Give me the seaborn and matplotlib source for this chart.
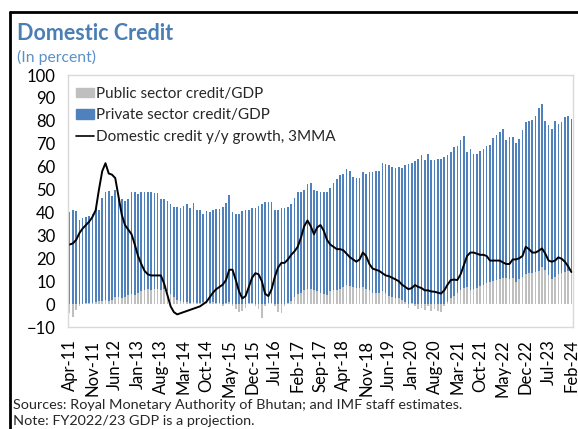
import numpy as np
import matplotlib
matplotlib.use("Agg")
import matplotlib.pyplot as plt
from matplotlib.patches import Patch
from matplotlib.lines import Line2D
import seaborn as sns

# monthly data, Apr-11 .. Feb-24 (155 months)
tick_labels = ["Apr-11", "Nov-11", "Jun-12", "Jan-13", "Aug-13", "Mar-14", "Oct-14",
               "May-15", "Dec-15", "Jul-16", "Feb-17", "Sep-17", "Apr-18", "Nov-18",
               "Jun-19", "Jan-20", "Aug-20", "Mar-21", "Oct-21", "May-22", "Dec-22",
               "Jul-23", "Feb-24"]

public_credit = [
    -4, -5.5, -2.5, -1, 0, 0.5, 0.5, 0.5, 1, 1.5,
    1.5, 2, 1.5, 2, 3, 3, 2.5, 3, 4, 4.5,
    4, 5, 5.5, 6, 6.5, 6, 6.5, 6.5, 6, 6.5,
    5.5, 4.5, 3, 2, 1.5, 1, 1, 0.5, 1, 0.5,
    0.5, 1, 0.5, 0.5, 1, 0.5, 0.5, -1, 0.5, 1,
    -1, -2, -3.5, -3, -1.5, 0.5, 0.5, -1, -2, -6,
    -1, 0.5, 0.5, -1, -3.5, -4, -1, 0.5, 1.5, 3,
    4.5, 5, 6, 6.5, 6.5, 6, 5.5, 5, 4.5, 4,
    5.5, 6, 6, 6.5, 7.5, 8.5, 8, 7.5, 7, 7,
    7.5, 6.5, 6, 5, 5, 5, 5.5, 5, 3.5, 3,
    2.5, 2.5, 2, 1, -1.5, 0.5, -1, -2, -1.5, -2.5,
    -1, -3, -2, -3, -3.5, -1, 1, 2.5, 3.5, 5,
    6, 7, 7.5, 6, 6.5, 7, 8, 8.5, 9, 9.5,
    10, 10.5, 11, 11.5, 11.5, 11, 11.5, 9.5, 11, 12,
    13, 13.5, 13.5, 14, 14.5, 16, 15, 12.5, 11, 12,
    13, 13.5, 14, 14.5, 14.5]

private_credit = [
    40, 41, 40.5, 36.5, 37.5, 37.5, 38, 39, 41, 39.5,
    45, 47, 48, 45, 47, 45, 43.5, 42, 42, 44.5,
    45, 43, 43.5, 43, 42.5, 43, 42, 42, 40, 39.5,
    39.5, 39, 39.5, 40.5, 40.5, 42, 42.5, 41.5, 43, 40.5,
    40.5, 38.5, 40, 39.5, 40, 41, 41, 42.5, 43.5, 46.5,
    40, 39.5, 39.5, 40.5, 41, 40.5, 41.5, 42, 43, 43.5,
    44.5, 44, 44, 41, 41, 42, 42, 42, 42, 43.5,
    44.5, 44, 44, 46, 46.5, 44, 44, 44, 44.5, 45,
    45, 47, 48.5, 50, 49.5, 50.5, 50, 48, 48, 48,
    50, 50.5, 51.5, 52.5, 53, 53, 56, 56, 57, 57,
    57, 57.5, 57.5, 59.5, 61, 61, 62.5, 63.5, 65, 63,
    65.5, 63, 63, 63.5, 63.5, 64, 64, 64, 65, 64,
    65.5, 66.5, 59, 61.5, 59, 58.5, 59, 59, 60, 60,
    62.5, 63.5, 64, 65, 60, 62, 61.5, 61, 61, 64,
    66.5, 66.5, 67, 68, 71, 71.5, 65, 65.5, 65.5, 68,
    65.5, 66, 67.5, 67.5, 66.5]

credit_growth = [
    26, 26.5, 28, 31, 33, 34.5, 36, 38, 41, 50,
    58, 61.5, 57, 56.5, 55, 47, 39, 34.5, 32.5, 30.5,
    26, 21, 17.5, 14.5, 13, 12.5, 12.5, 12.5, 12.5, 9,
    4, -1, -3.5, -4.5, -4, -3.5, -3, -2.5, -2, -1.5,
    -1, 0, 1, 3, 5, 6.5, 7.5, 8.5, 10.5, 15,
    15, 10.5, 5.5, 2.5, 3.5, 7.5, 11.5, 13.5, 13, 10,
    4.5, 3.5, 6.5, 12, 16, 18, 18, 19.5, 21.5, 23,
    25, 29, 34, 36.5, 34, 30.5, 33.5, 34.5, 32, 28,
    26, 25, 24, 24, 23.5, 22, 20.5, 19.5, 18.5, 19.5,
    22.5, 21, 17.5, 15.5, 15, 14.5, 13.5, 12.5, 12.2, 11.5,
    10.8, 10, 8.5, 7.5, 6.5, 7, 8.3, 7.5, 7, 6,
    6, 5.5, 5.4, 5, 4.6, 6, 8.5, 10.5, 10.7, 10.5,
    13, 17, 21, 22.5, 22.5, 22, 21.5, 21.5, 21, 19,
    19, 19, 19, 18.2, 17.5, 17.5, 19.5, 19.5, 20, 21,
    25, 24, 22.5, 22.5, 23.3, 24.3, 22, 19, 18.5, 19,
    20.4, 19.8, 18.5, 16.5, 14]

BLUE = "#4F81BD"
GREY = "#BFBFBF"
FONT = ["Lato", "DejaVu Sans"]

sns.set_theme(style="white")
plt.rcParams["font.family"] = FONT

pub = np.array(public_credit)
priv = np.array(private_credit)
idx = np.arange(len(pub))

fig = plt.figure(figsize=(5.78, 4.29), dpi=100)
ax = fig.add_axes([68 / 578, 1 - 327 / 429, 505 / 578, 252 / 429])

ax.bar(idx, pub, width=0.5, color=GREY, linewidth=0)
ax.bar(idx, priv, width=0.5, bottom=np.maximum(pub, 0), color=BLUE, linewidth=0)
sns.lineplot(x=idx, y=credit_growth, ax=ax, color="black", linewidth=1.4)

ax.set_xlim(-0.5, len(pub) - 0.5)
ax.set_ylim(-10, 100)
ax.set_yticks(np.arange(-10, 101, 10))
ax.set_xticks(np.arange(0, len(pub), 7))
ax.set_xticklabels(tick_labels, rotation=90)
ax.tick_params(axis="both", length=0, labelsize=12, colors="black")
ax.tick_params(axis="y", pad=9)
ax.tick_params(axis="x", pad=9)
ax.set_xlabel("")
ax.set_ylabel("")
for s in ax.spines.values():
    s.set_color("#D9D9D9")
    s.set_linewidth(1)

handles = [Patch(color=GREY, label="Public sector credit/GDP"),
           Patch(color=BLUE, label="Private sector credit/GDP"),
           Line2D([], [], color="black", linewidth=1.2, label="Domestic credit y/y growth, 3MMA")]
fig.legend(handles=handles, loc="upper left", bbox_to_anchor=(76 / 578, 1 - 87 / 429),
           frameon=False, fontsize=11, handlelength=1.15, handleheight=0.55,
           handletextpad=0.15, labelspacing=0.48, borderpad=0, borderaxespad=0)

fig.text(17 / 578, 1 - 33 / 429, "Domestic Credit", fontsize=15.5, fontweight="bold",
         color="#4A7EB4", va="center", ha="left")
fig.text(17 / 578, 1 - 57 / 429, "(In percent)", fontsize=11.3, color="#5B8FC6",
         va="center", ha="left")
fig.text(13 / 578, 1 - 405 / 429,
         "Sources: Royal Monetary Authority of Bhutan; and IMF staff estimates.",
         fontsize=10.4, va="center", ha="left")
fig.text(13 / 578, 1 - 421 / 429, "Note: FY2022/23 GDP is a projection.",
         fontsize=10.4, va="center", ha="left")

# black frame on top and left edge
fig.add_artist(Line2D([10 / 578, 1], [1 - 12 / 429, 1 - 12 / 429], color="black",
                      linewidth=2, transform=fig.transFigure))
fig.add_artist(Line2D([10 / 578, 10 / 578], [0, 1 - 12 / 429], color="black",
                      linewidth=2, transform=fig.transFigure))

fig.savefig("out.png", dpi=100)
